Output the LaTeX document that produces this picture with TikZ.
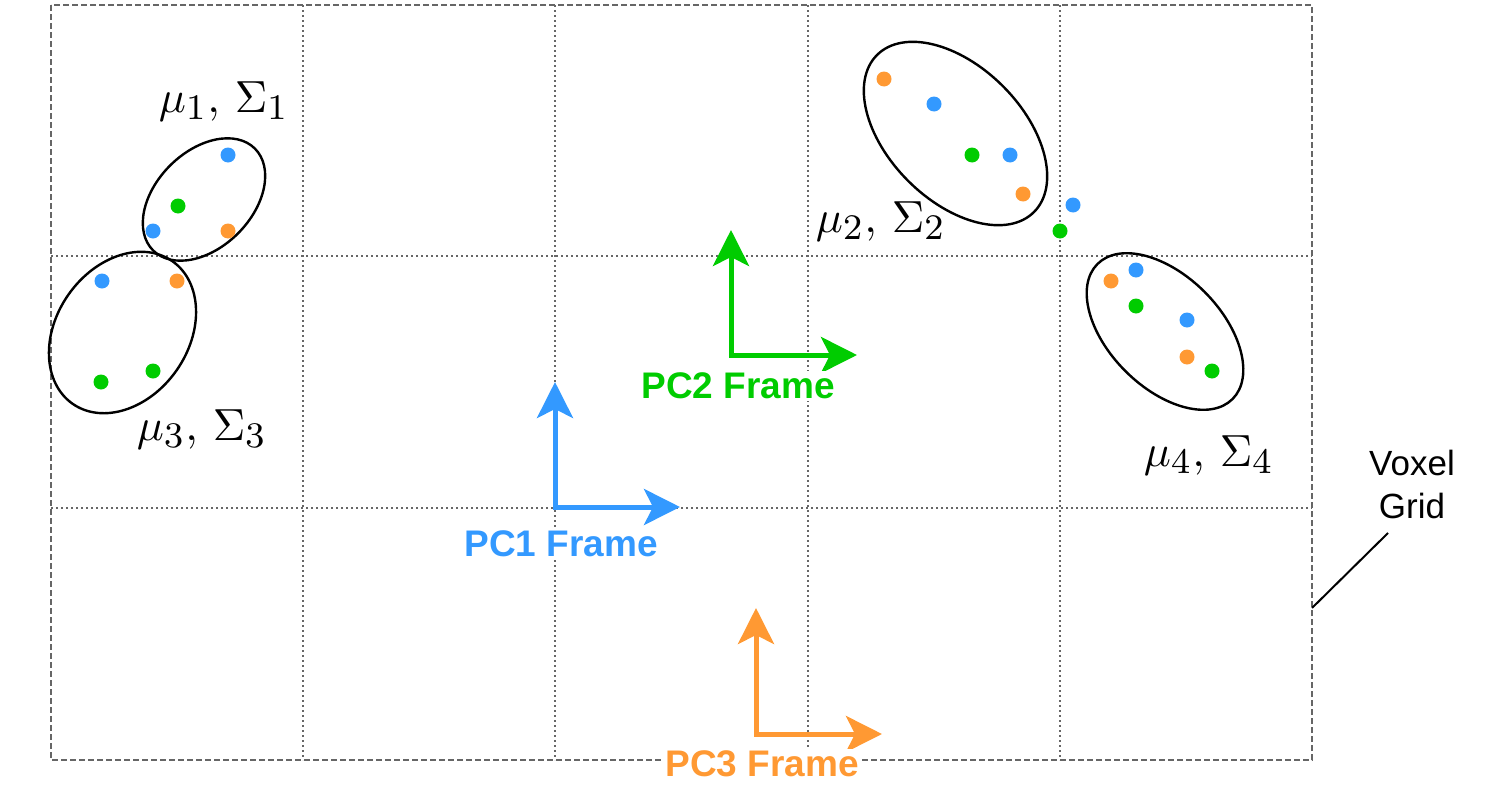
\documentclass[tikz,border=0pt]{standalone}
\usepackage{fontspec}
\DeclareMathSizes{10}{10}{8}{6}
\newfontfamily\arial{Liberation Sans}
\usetikzlibrary{arrows.meta,shapes.geometric}
\definecolor{pblue}{HTML}{3399FF}
\definecolor{pgreen}{HTML}{00CC00}
\definecolor{porange}{HTML}{FF9933}
\definecolor{gridgray}{HTML}{666666}
\tikzset{
  gridline/.style={draw=gridgray, line width=1.6pt, dash pattern=on 2pt off 3pt},
  border/.style={draw=gridgray, line width=2pt, dash pattern=on 6pt off 3pt},
  clus/.style={draw=black, line width=2.4pt, ellipse, inner sep=0pt},
  dotb/.style={circle, fill=pblue, minimum size=15pt, inner sep=0pt},
  dotg/.style={circle, fill=pgreen, minimum size=15pt, inner sep=0pt},
  doto/.style={circle, fill=porange, minimum size=15pt, inner sep=0pt},
  frame/.style={line width=5pt, {Stealth[length=36pt,width=36pt,inset=9pt]}-{Stealth[length=36pt,width=36pt,inset=9pt]}},
  framelabel/.style={font=\arial\bfseries\fontsize{37}{40}\selectfont, fill=white, inner sep=2pt},
  mathlabel/.style={scale=4.5, anchor=base west, inner sep=0pt},
}
\begin{document}
\begin{tikzpicture}[x=1pt,y=-1pt]
\useasboundingbox (0,0) rectangle (1494,795);
% grid
\foreach \gx in {303,555,808,1060} \draw[gridline] (\gx,5) -- (\gx,760);
\foreach \gy in {256,508} \draw[gridline] (51,\gy) -- (1312,\gy);
\draw[border] (51,5) rectangle (1312,760);

% clusters
\node[clus, minimum width=144pt, minimum height=96pt, rotate=45] (e1) at (204,199.5) {};
\node[clus, minimum width=174pt, minimum height=132pt, rotate=55] (e3) at (122.5,332.5) {};
\node[clus, minimum width=222pt, minimum height=134pt, rotate=-45] (e2) at (955.5,133.5) {};
\node[clus, minimum width=191pt, minimum height=112pt, rotate=-45] (e4) at (1165,331.5) {};

% points
\node[dotb] (p1) at (228,155) {};
\node[dotg] (p2) at (178,206) {};
\node[dotb] (p3) at (153,231) {};
\node[doto] (p4) at (228,231) {};
\node[dotb] (p5) at (102,281) {};
\node[doto] (p6) at (177,281) {};
\node[dotg] (p7) at (153,371) {};
\node[dotg] (p8) at (101,382) {};
\node[doto] (p9) at (884,79) {};
\node[dotb] (p10) at (934,104) {};
\node[dotg] (p11) at (972,155) {};
\node[dotb] (p12) at (1010,155) {};
\node[doto] (p13) at (1023,194) {};
\node[dotb] (p14) at (1073,205) {};
\node[dotg] (p15) at (1060,231) {};
\node[doto] (p16) at (1111,281) {};
\node[dotb] (p17) at (1136,270) {};
\node[dotg] (p18) at (1136,306) {};
\node[dotb] (p19) at (1187,320) {};
\node[doto] (p20) at (1187,357) {};
\node[dotg] (p21) at (1212,371) {};

% math labels
\node[mathlabel] (m1) at (158,112) {$\mu_1, \,\Sigma_1$};
\node[mathlabel] (m2) at (815,232) {$\mu_2, \,\Sigma_2$};
\node[mathlabel] (m3) at (136,440) {$\mu_3, \,\Sigma_3$};
\node[mathlabel] (m4) at (1143,466) {$\mu_4, \,\Sigma_4$};

% frames
\coordinate (o1) at (555,507);
\coordinate (u1) at (555,382);
\coordinate (r1) at (680,507);
\draw[frame, pblue] (u1) -- (o1) -- (r1);
\node[framelabel, text=pblue] (l1) at (561,544) {PC1 Frame};

\coordinate (o2) at (731,355);
\coordinate (u2) at (731,230);
\coordinate (r2) at (857,355);
\draw[frame, pgreen] (u2) -- (o2) -- (r2);
\node[framelabel, text=pgreen] (l2) at (738,386) {PC2 Frame};

\coordinate (o3) at (756,734);
\coordinate (u3) at (756,608);
\coordinate (r3) at (882,734);
\draw[frame, porange] (u3) -- (o3) -- (r3);
\node[framelabel, text=porange] (l3) at (762,764) {PC3 Frame};

% voxel grid label
\node[font=\arial\fontsize{35}{43}\selectfont, align=center] (vg) at (1412,484) {Voxel\\Grid};
\coordinate (vgend) at (1312,608);
\coordinate (vgstart) at (1388,533);
\draw[line width=2pt] (vgstart) -- (vgend);
\end{tikzpicture}
\end{document}
